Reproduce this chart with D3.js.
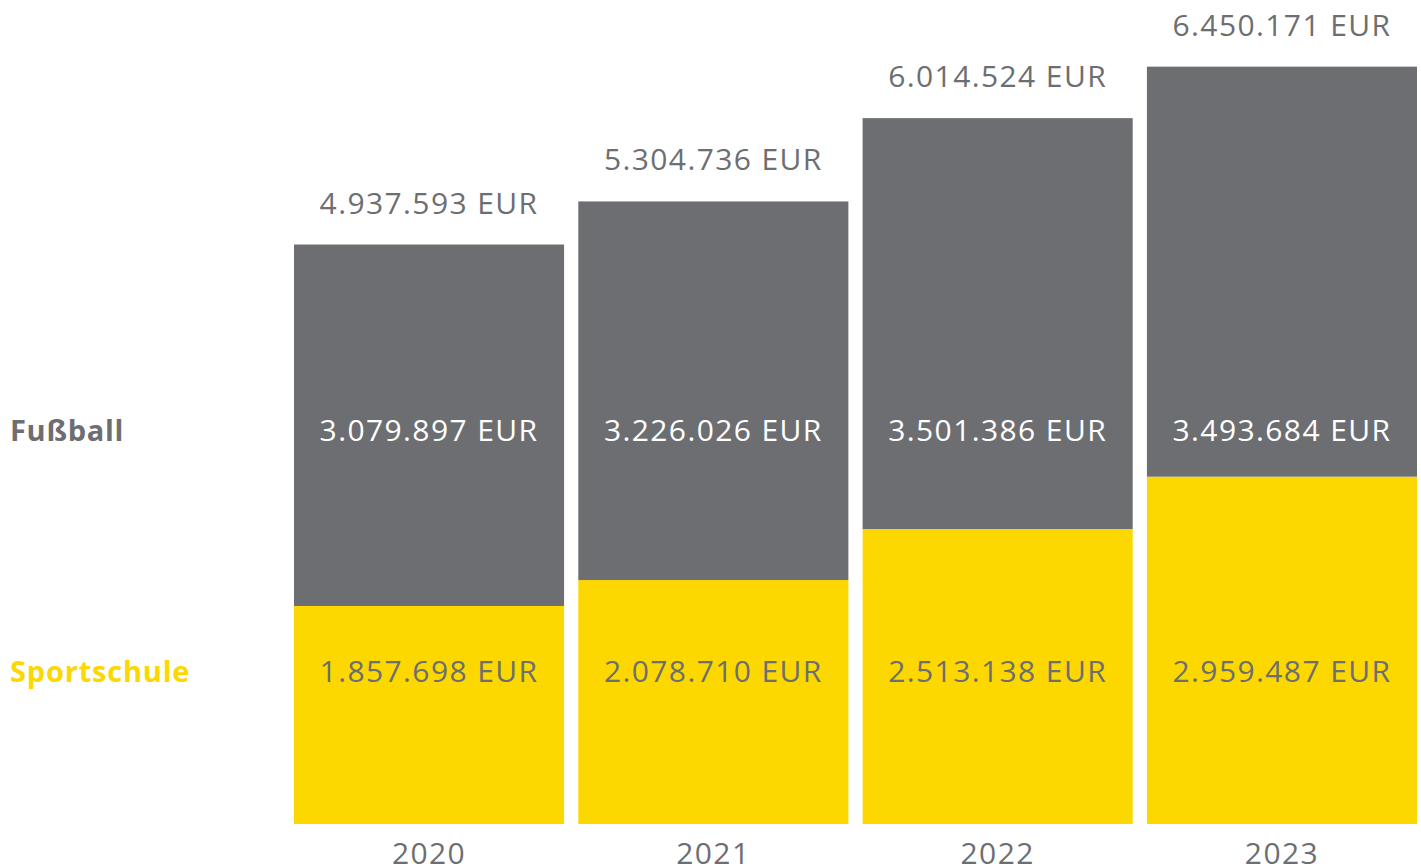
<!DOCTYPE html>
<html>
<head>
<meta charset="utf-8">
<script src="https://cdn.jsdelivr.net/npm/d3@7"></script>
<style>
  body { margin: 0; background: #fff; overflow: hidden; }
  svg { display: block; font-family: "Open Sans", "Lato", sans-serif; }
</style>
</head>
<body>
<div id="chart"></div>
<script>
// Values (EUR)
const years = ["2020", "2021", "2022", "2023"];
const fussball = [3079897, 3226026, 3501386, 3493684];
const sportschule = [1857698, 2078710, 2513138, 2959487];
const totals = [4937593, 5304736, 6014524, 6450171];
const seriesNames = ["Sportschule", "Fußball"];

const GRAY = "#6d6e71";
const YELLOW = "#fdd700";

const width = 1421, height = 866;

const svg = d3.select("#chart").append("svg")
    .attr("width", width)
    .attr("height", height);

const x = d3.scaleBand()
    .domain(years)
    .range([294, 1417])
    .paddingInner(0.05)
    .paddingOuter(0);

const y = d3.scaleLinear()
    .domain([0, d3.max(totals)])
    .range([824, 67]);

const fmt = v => d3.format(",")(v).replace(/,/g, ".") + " EUR";

const rows = years.map((yr, i) => ({
    year: yr,
    sportschule: sportschule[i],
    fussball: fussball[i],
    total: totals[i]
}));

// stacked bars
const stack = d3.stack().keys(["sportschule", "fussball"]);
const layers = stack(rows);
const colors = { sportschule: YELLOW, fussball: GRAY };

svg.selectAll("g.layer")
    .data(layers)
    .join("g")
    .attr("class", "layer")
    .attr("fill", d => colors[d.key])
    .selectAll("rect")
    .data(d => d)
    .join("rect")
    .attr("x", d => x(d.data.year))
    .attr("width", x.bandwidth())
    .attr("y", d => y(d[1]))
    .attr("height", d => y(d[0]) - y(d[1]));

const cx = d => x(d.year) + x.bandwidth() / 2;

// helper for the value labels (letter-spacing widens the text to match)
function valueLabels(cls, accessor, yPos, fill) {
    svg.selectAll("text." + cls)
        .data(rows)
        .join("text")
        .attr("class", cls)
        .attr("x", cx)
        .attr("y", yPos)
        .attr("text-anchor", "middle")
        .attr("font-size", 30)
        .attr("letter-spacing", 1.4)
        .attr("fill", fill)
        .text(d => fmt(accessor(d)));
}

// totals above bars
valueLabels("total", d => d.total, d => y(d.total) - 31, GRAY);

// fixed label rows inside bars
const rowY = { fussball: 441, sportschule: 682 };
valueLabels("fb", d => d.fussball, rowY.fussball, "#fff");
valueLabels("ss", d => d.sportschule, rowY.sportschule, GRAY);

// series names on the left
svg.append("text")
    .attr("x", 10).attr("y", rowY.fussball)
    .attr("font-size", 29).attr("font-weight", "bold")
    .attr("letter-spacing", 0.7)
    .attr("fill", GRAY)
    .text(seriesNames[1]);

svg.append("text")
    .attr("x", 10).attr("y", rowY.sportschule)
    .attr("font-size", 29).attr("font-weight", "bold")
    .attr("letter-spacing", 0.8)
    .attr("fill", YELLOW)
    .text(seriesNames[0]);

// year axis (cut off at the bottom edge, as in the original)
const xAxis = svg.append("g")
    .attr("transform", "translate(0,824)")
    .call(d3.axisBottom(x).tickSize(0).tickPadding(0));
xAxis.select(".domain").remove();
xAxis.selectAll("text")
    .attr("dy", null)
    .attr("y", 40)
    .attr("font-size", 30)
    .attr("letter-spacing", 1.4)
    .attr("font-family", "\"Open Sans\", sans-serif")
    .attr("fill", GRAY);
</script>
</body>
</html>
